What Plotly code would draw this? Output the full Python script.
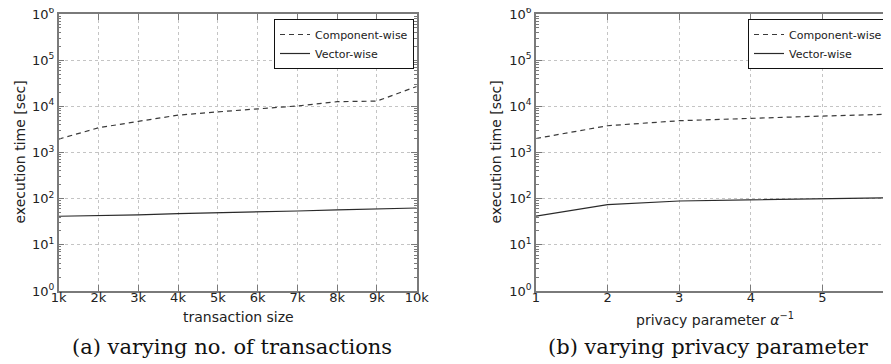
import plotly.graph_objects as go

# ---- data ----
tx_sizes = [1000, 2000, 3000, 4000, 5000, 6000, 7000, 8000, 9000, 10000]
tx_labels = ["1k", "2k", "3k", "4k", "5k", "6k", "7k", "8k", "9k", "10k"]
tx_component = [1950, 3430, 4720, 6450, 7590, 8900, 10200, 12600, 13000, 26900]
tx_vector = [41.6, 42.3, 44.4, 47.4, 49.0, 51.5, 54.0, 57.0, 59.0, 62.8]

privacy = [1, 2, 3, 4, 5, 6]
pr_component = [2010, 3800, 4880, 5570, 6160, 6800]
pr_vector = [42, 74, 89, 93.6, 100, 105]

y_tickvals = [1, 10, 100, 1000, 10000, 100000, 1000000]
y_ticktext = ["10<sup>0</sup>", "10<sup>1</sup>", "10<sup>2</sup>", "10<sup>3</sup>",
              "10<sup>4</sup>", "10<sup>5</sup>", "10<sup>6</sup>"]

# window size and the page's default body margin (the figure starts 8px in)
WIN_W, WIN_H = 891, 364
OFF = 8
W, H = WIN_W - OFF, WIN_H - OFF


def xp(px):
    return (px - OFF) / W


def yp(py):
    return 1 - (py - OFF) / H


FRAME = "#7a7a7a"
GRID = "#c4c4c4"
DASH_C = "#3a3a3a"
SOLID_C = "#2a2a2a"
TXT = "#222222"
SANS = "DejaVu Sans"
SERIF = "DejaVu Serif"

fig = go.Figure()

fig.add_trace(go.Scatter(x=tx_sizes, y=tx_component, mode="lines", name="Component-wise",
                         line=dict(color=DASH_C, width=1.2, dash="5px,4px"),
                         xaxis="x", yaxis="y", legend="legend"))
fig.add_trace(go.Scatter(x=tx_sizes, y=tx_vector, mode="lines", name="Vector-wise",
                         line=dict(color=SOLID_C, width=1.2),
                         xaxis="x", yaxis="y", legend="legend"))
fig.add_trace(go.Scatter(x=privacy, y=pr_component, mode="lines", name="Component-wise",
                         line=dict(color=DASH_C, width=1.2, dash="5px,4px"),
                         xaxis="x2", yaxis="y2", legend="legend2"))
fig.add_trace(go.Scatter(x=privacy, y=pr_vector, mode="lines", name="Vector-wise",
                         line=dict(color=SOLID_C, width=1.2),
                         xaxis="x2", yaxis="y2", legend="legend2"))

ydom = [yp(291), yp(14)]
x1dom = [xp(58.7), xp(416.7)]
x2dom = [xp(536), 1.0]
# right panel is cut by the image edge: visible span from 1 to about 5.96
x2_end = 1 + (WIN_W - 536) / 71.6

tickfont = dict(family=SANS, size=13, color=TXT)

common_y = dict(type="log", range=[0, 6], tickvals=y_tickvals, ticktext=y_ticktext,
                showgrid=True, gridcolor=GRID, griddash="dot", gridwidth=1,
                ticks="inside", ticklen=6, tickcolor=FRAME, tickwidth=1,
                minor=dict(ticks="inside", ticklen=3, tickcolor=FRAME, dtick="D1", showgrid=False),
                showline=True, linecolor=FRAME, linewidth=1.5,
                tickfont=tickfont, zeroline=False, automargin=False,
                ticklabeloverflow="allow")

common_x = dict(showgrid=True, gridcolor=GRID, griddash="dot", gridwidth=1,
                ticks="inside", ticklen=6, tickcolor=FRAME,
                showline=True, mirror="ticks", linecolor=FRAME, linewidth=1.5,
                tickfont=tickfont, zeroline=False, automargin=False,
                ticklabelstandoff=-6, ticklabeloverflow="allow")

legend_style = dict(bordercolor="#111", borderwidth=1, bgcolor="white",
                    font=dict(family=SANS, size=11, color=TXT),
                    tracegroupgap=0, itemwidth=30, yanchor="top", xanchor="right")

fig.update_layout(
    template="none",
    width=W, height=H,
    margin=dict(l=0, r=0, t=0, b=0, autoexpand=False),
    paper_bgcolor="white", plot_bgcolor="white",
    showlegend=True,
    xaxis=dict(domain=x1dom, anchor="y", range=[1000, 10000],
               tickvals=tx_sizes, ticktext=tx_labels, **common_x),
    yaxis=dict(domain=ydom, anchor="x", mirror="ticks", **common_y),
    xaxis2=dict(domain=x2dom, anchor="y2", range=[1, x2_end],
                tickvals=privacy, **common_x),
    yaxis2=dict(domain=ydom, anchor="x2", mirror=False, **common_y),
    legend=dict(x=xp(414), y=yp(19), **legend_style),
    legend2=dict(x=xp(888), y=yp(19), **legend_style),
)

ann = []
# y axis titles
for xc in (19, 495):
    ann.append(dict(text="execution time [sec]", x=xp(xc), y=yp(152.5), xref="paper", yref="paper",
                    textangle=-90, showarrow=False, font=dict(family=SANS, size=14, color=TXT),
                    xanchor="center", yanchor="middle"))
# x axis titles
ann.append(dict(text="transaction size", x=xp(238), y=yp(317), xref="paper", yref="paper",
                showarrow=False, font=dict(family=SANS, size=14, color=TXT),
                xanchor="center", yanchor="middle"))
ann.append(dict(text="privacy parameter <i>α</i><sup>−1</sup>", x=xp(715), y=yp(319),
                xref="paper", yref="paper",
                showarrow=False, font=dict(family=SANS, size=14, color=TXT),
                xanchor="center", yanchor="middle"))
# captions
ann.append(dict(text="(a) varying no. of transactions", x=xp(232), y=yp(347), xref="paper", yref="paper",
                showarrow=False, font=dict(family=SERIF, size=21, color="#111"),
                xanchor="center", yanchor="middle"))
ann.append(dict(text="(b) varying privacy parameter", x=xp(708), y=yp(347), xref="paper", yref="paper",
                showarrow=False, font=dict(family=SERIF, size=21, color="#111"),
                xanchor="center", yanchor="middle"))
fig.update_layout(annotations=ann)

fig.write_html("out.html")
